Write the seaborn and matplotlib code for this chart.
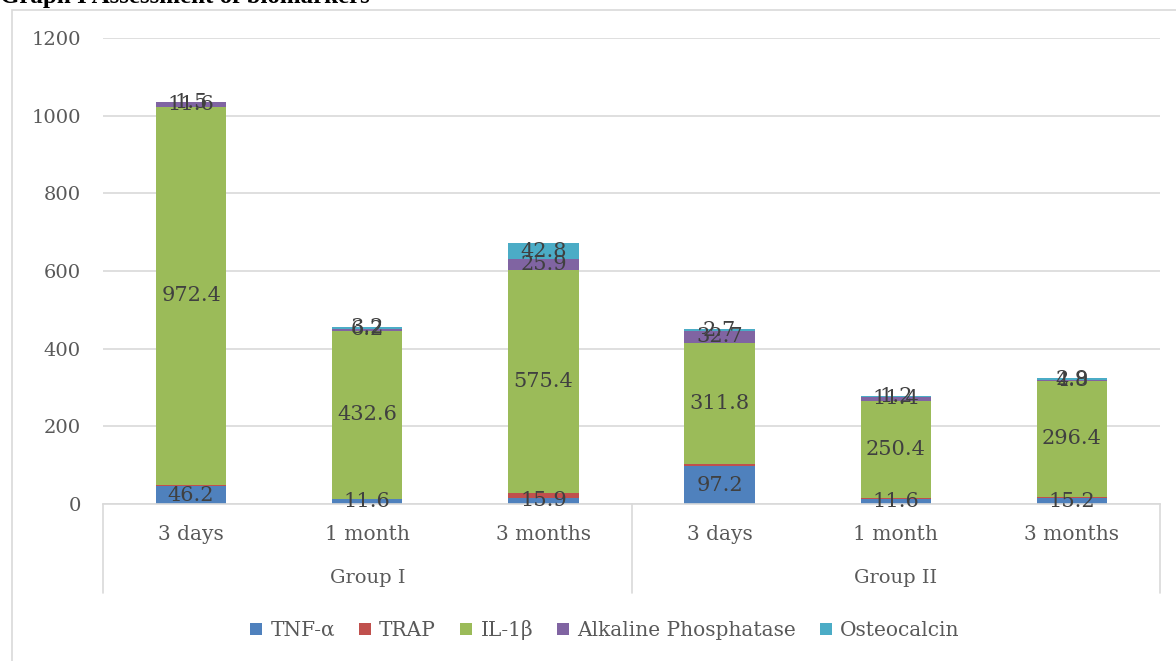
import numpy as np
import pandas as pd
import matplotlib
matplotlib.use("Agg")
import matplotlib.pyplot as plt
from matplotlib.patches import Rectangle, Patch
import matplotlib.transforms as mtransforms
import seaborn as sns

# ---- data ----
groups = ["Group I", "Group II"]
periods = ["3 days", "1 month", "3 months"]
series = ["TNF-\u03b1", "TRAP", "IL-1\u03b2", "Alkaline Phosphatase", "Osteocalcin"]
tnf = [46.2, 11.6, 15.9, 97.2, 11.6, 15.2]
trap = [4.0, 1.5, 12.5, 5.0, 3.0, 4.0]
il1b = [972.4, 432.6, 575.4, 311.8, 250.4, 296.4]
alp = [11.6, 6.2, 25.9, 32.7, 11.4, 4.8]
osteo = [1.5, 3.2, 42.8, 2.7, 1.2, 2.9]
y_ticks = [0, 200, 400, 600, 800, 1000, 1200]

colors = ["#4F81BD", "#C0504D", "#9BBB59", "#8064A2", "#4BACC6"]
values = [tnf, trap, il1b, alp, osteo]
show_label = [True, False, True, True, True]

cats = [f"{g}|{p}" for g in groups for p in periods]
cum = np.cumsum(np.array(values), axis=0)

sns.set_theme(style="white")
serif = ["DejaVu Serif"]
plt.rcParams["font.family"] = serif

fig = plt.figure(figsize=(11.76, 6.61), dpi=100)
ax = fig.add_axes([103/1176, 1-504/661, (1160-103)/1176, (504-38)/661])

# draw stacked bars: tallest cumulative first
for i in range(len(series)-1, -1, -1):
    d = pd.DataFrame({"cat": cats, "val": cum[i]})
    sns.barplot(data=d, x="cat", y="val", order=cats, color=colors[i],
                width=0.4, saturation=1, ax=ax, linewidth=0, errorbar=None)

# data labels
for i in range(len(series)):
    if not show_label[i]:
        continue
    for j in range(len(cats)):
        v = values[i][j]
        center = cum[i][j] - v/2
        ax.text(j, center, f"{v:g}", ha="center", va="center",
                fontsize=15, color="#404040", family=serif)

ax.set_ylim(0, 1200)
ax.set_xlim(-0.5, 5.5)
ax.set_yticks(y_ticks)
ax.set_yticklabels([str(t) for t in y_ticks], fontsize=14, color="#595959")
ax.yaxis.grid(True, color="#D9D9D9", linewidth=1.2)
ax.set_axisbelow(True)
ax.set_xlabel("")
ax.set_ylabel("")
for s in ["top", "right", "left"]:
    ax.spines[s].set_visible(False)
ax.spines["bottom"].set_color("#D9D9D9")
ax.spines["bottom"].set_linewidth(1.2)
ax.tick_params(axis="y", length=0, pad=16)
ax.set_xticks(range(len(cats)))
ax.set_xticklabels(periods * len(groups), fontsize=14.5, color="#595959")
ax.tick_params(axis="x", length=0, pad=15)

# multi-level axis: group labels and separators
trans = mtransforms.blended_transform_factory(ax.transData, ax.transAxes)
for gi, g in enumerate(groups):
    ax.text(gi*3 + 1, -74/466, g, transform=trans, ha="center", va="center",
            fontsize=14, color="#595959", family=serif)
for xb in [-0.5, 2.5, 5.5]:
    ax.plot([xb, xb], [0, -89/466], transform=trans, color="#D9D9D9",
            linewidth=1.2, clip_on=False)

# legend
handles = [Patch(facecolor=c, edgecolor="none") for c in colors]
fig.legend(handles, series, loc="center", bbox_to_anchor=(605/1176, 1-630/661),
           ncol=5, frameon=False, fontsize=14.5, handlelength=0.6, handleheight=0.6,
           handletextpad=0.4, columnspacing=1.2, labelcolor="#595959")

# chart border and title
fig.patches.append(Rectangle((12/1176, -0.01), 1.02, 1-10/661+0.01,
                             transform=fig.transFigure, fill=False,
                             edgecolor="#D9D9D9", linewidth=1.2))
fig.text(0.0, 1-3/661, "Graph I Assessment of biomarkers", ha="left", va="baseline",
         fontsize=18, fontweight="bold", family=["Liberation Serif"], color="black")

fig.savefig("out.png", dpi=100)
